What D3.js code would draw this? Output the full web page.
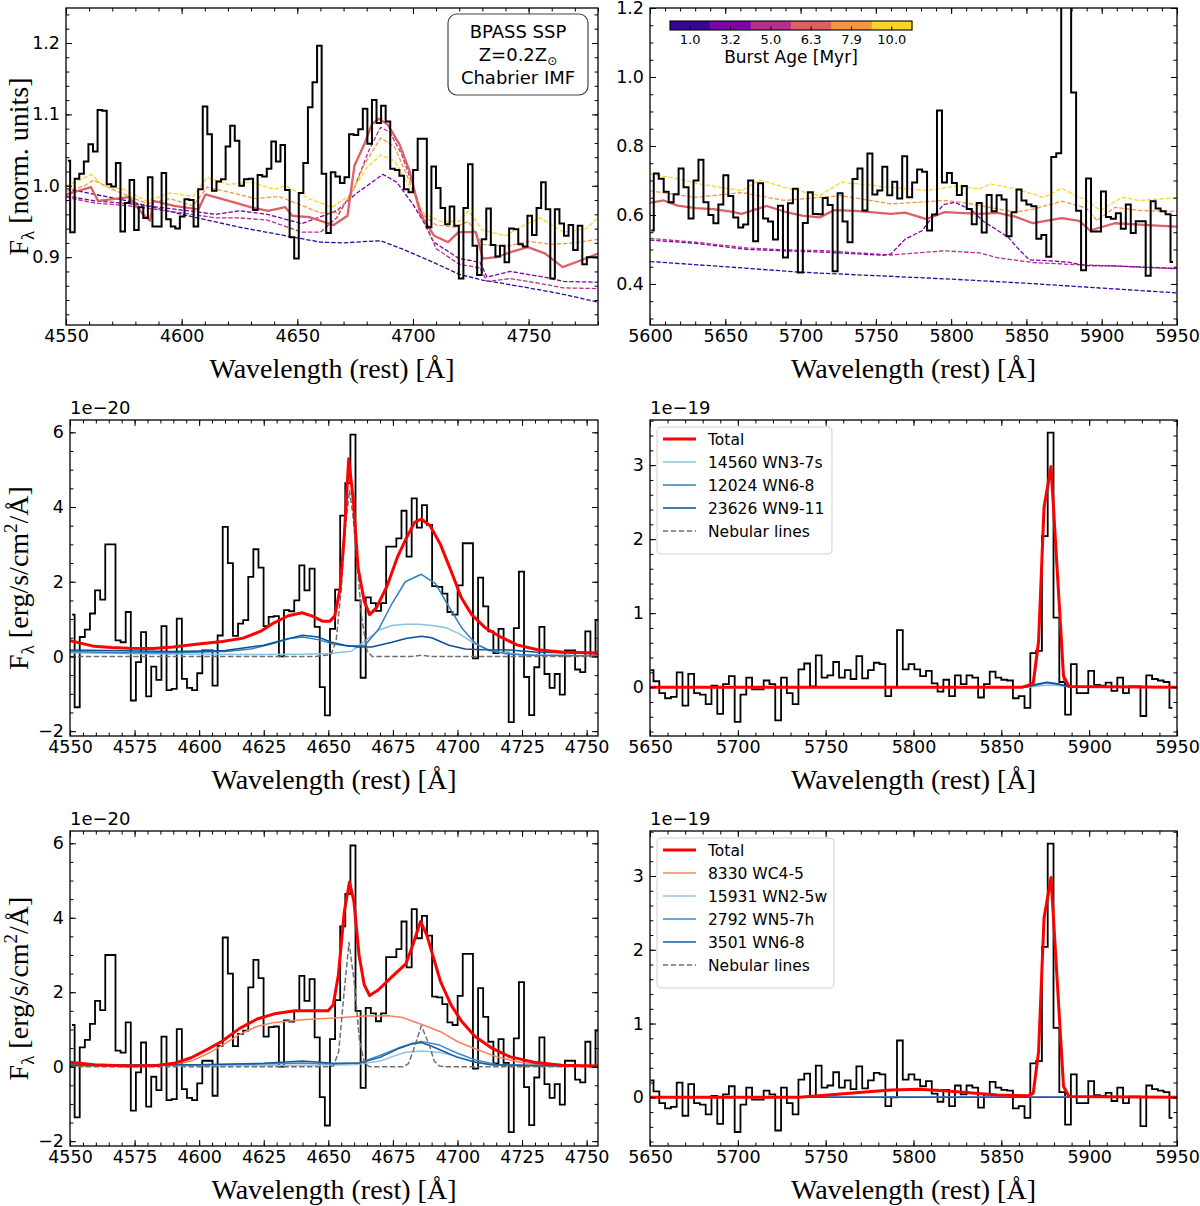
<!DOCTYPE html>
<html><head><meta charset="utf-8">
<script src="https://cdn.jsdelivr.net/npm/d3@7"></script>
<style>body{margin:0;background:#fff}</style>
</head><body>
<svg id="c" width="1200" height="1206"></svg>
<script>
// ---------------- DATA ----------------
// wavelength grids (bin centres, rest frame Å)
const blueStart = 4550.8, blueStep = 1.977;
const redStart = 5650.35, redStep = 3.3;
const redNormStart = 5600.85;

// continuum-normalised spectrum, blue window (top-left)
const fluxBlueNorm = [1.035,0.935,1.010,1.017,1.034,1.058,1.048,1.106,1.105,1.002,
 0.999,1.032,0.936,0.976,1.008,0.938,0.970,0.955,1.012,0.943,
 0.943,1.018,0.953,0.943,0.940,0.957,0.981,0.980,0.943,0.995,
 1.111,1.072,0.993,1.006,1.009,1.055,1.084,1.063,1.000,1.009,
 1.010,0.966,1.015,1.013,1.024,1.062,1.034,1.057,0.994,0.928,
 0.898,0.990,1.032,1.110,1.145,1.196,1.017,0.934,1.019,1.013,
 1.004,1.012,1.072,1.071,1.079,1.108,1.059,1.120,1.088,1.112,
 1.090,1.024,1.022,1.014,0.995,0.991,1.022,1.066,1.066,0.942,
 1.027,0.997,0.969,0.946,0.971,0.944,0.870,0.969,1.030,0.916,
 0.875,0.925,0.968,0.917,0.901,0.916,0.893,0.940,0.939,0.918,
 0.915,0.958,0.931,0.969,
 1.005,0.967,0.870,0.967,0.947,0.930,0.945,0.910,0.944,0.890,0.900,0.900,0.900];

// continuum-normalised spectrum, red window (top-right)
const fluxRedNorm = [0.555,0.720,0.705,0.667,0.637,0.660,0.735,0.680,0.590,0.700,
 0.760,0.637,0.600,0.576,0.630,
 0.715,0.655,0.593,0.564,0.572,0.700,0.524,0.692,0.590,0.581,
 0.529,0.627,0.477,0.634,0.676,0.433,0.577,0.666,0.603,0.602,
 0.649,0.629,0.437,0.663,0.581,0.521,0.704,0.735,0.613,0.778,
 0.659,0.671,0.740,0.657,0.696,0.648,0.770,0.651,0.694,0.732,
 0.725,0.555,0.601,0.903,0.694,0.722,0.693,0.658,0.684,0.617,
 0.573,0.635,0.549,0.658,0.611,0.657,0.645,0.538,0.608,0.674,
 0.642,0.630,0.625,0.531,0.542,0.479,0.768,0.779,1.387,1.935,
 0.955,0.612,0.440,0.706,0.552,0.552,0.668,0.594,0.589,0.605,
 0.560,0.630,0.548,0.582,0.582,0.424,0.640,0.619,0.611,0.602,0.464];

// continuum-subtracted flux, blue window [1e-20 erg/s/cm2/Å]
const fluxBlue = [1.12,-1.36,0.52,0.72,1.15,1.77,1.52,3.00,3.00,0.43,
 0.38,1.19,-1.18,-0.15,0.65,-1.07,-0.27,-0.63,0.81,-0.90,
 -0.87,1.01,-0.60,-0.84,-0.90,-0.45,0.16,0.16,-0.78,0.56,
 3.47,2.50,0.55,0.88,0.97,2.13,2.87,2.38,0.81,1.06,
 1.08,0.00,1.24,1.21,1.50,2.44,1.77,2.35,0.79,-0.82,
 -1.58,0.74,1.79,3.77,4.64,5.94,1.50,-0.57,1.58,1.43,
 1.22,1.43,2.94,2.94,3.16,3.90,2.67,4.23,3.45,4.05,
 3.52,1.88,1.86,1.68,1.19,1.12,1.90,3.03,3.03,-0.05,
 2.11,1.34,0.67,0.09,0.74,0.10,-1.76,0.76,2.27,-0.55,
 -1.57,-0.29,0.79,-0.47,-0.84,-0.47,-1.02,0.16,0.16,-0.35,
 -0.42,0.67,0.00,0.97];

// continuum-subtracted flux, red window [1e-19 erg/s/cm2/Å]
const fluxRed = [0.23,0.08,-0.08,-0.15,-0.13,0.20,-0.25,0.18,-0.08,-0.10,
 -0.23,0.02,-0.36,0.04,0.15,-0.47,-0.10,0.13,-0.03,-0.03,
 0.09,0.04,-0.45,0.13,-0.08,-0.23,0.24,0.32,0.01,0.43,
 0.13,0.16,0.34,0.13,0.23,0.11,0.42,0.12,0.23,0.33,
 0.31,-0.12,0.00,0.77,0.24,0.31,0.24,0.15,0.22,0.05,
 -0.06,0.10,-0.12,0.16,0.04,0.16,0.13,-0.14,0.04,0.21,
 0.13,0.10,0.09,-0.15,-0.12,-0.28,0.46,0.49,2.04,3.44,
 0.94,0.07,-0.37,0.31,-0.08,-0.08,0.22,0.03,0.02,0.06,
 -0.05,0.13,-0.08,0.01,0.01,-0.39,0.16,0.11,0.09,0.07,-0.28];

// BPASS SSP models, blue window (wavelength, normalised flux)
const ageLabels = ["1.0","3.2","5.0","6.3","7.9","10.0"];
const sspB_1_0 = [[4550,0.996],[4575,0.980],[4600,0.960],[4625,0.942],[4650,0.927],[4660,0.921],[4670,0.920],[4680,0.922],[4686,0.923],[4695,0.912],[4710,0.891],[4720,0.876],[4730,0.868],[4750,0.857],[4765,0.848],[4780,0.837]];
const sspB_3_2 = [[4550,0.986],[4562,0.979],[4577,0.975],[4600,0.966],[4615,0.960],[4625,0.965],[4637,0.960],[4652,0.947],[4667,0.965],[4675,0.988],[4687,1.016],[4693,1.005],[4700,0.974],[4705,0.947],[4709,0.921],[4720,0.898],[4729,0.893],[4732,0.872],[4742,0.880],[4757,0.872],[4765,0.866],[4780,0.865]];
const sspB_5_0 = [[4550,0.984],[4562,0.976],[4577,0.972],[4600,0.962],[4615,0.955],[4625,0.955],[4637,0.952],[4652,0.935],[4660,0.935],[4667,0.955],[4675,1.000],[4681,1.050],[4686,1.082],[4690,1.075],[4695,1.045],[4700,1.000],[4705,0.950],[4710,0.912],[4720,0.890],[4729,0.885],[4732,0.866],[4742,0.870],[4757,0.862],[4765,0.857],[4780,0.856]];
const sspB_6_3 = [[4550,0.988],[4560.8,0.998],[4563.8,0.979],[4577.3,0.984],[4583.3,0.960],[4586.3,0.951],[4587.8,0.979],[4596.8,0.972],[4607.3,0.967],[4610.3,0.988],[4622.3,0.977],[4629.8,0.970],[4637.3,0.965],[4644.8,0.970],[4647.8,0.958],[4655.2,0.956],[4665.7,0.945],[4671.7,0.958],[4674.7,1.028],[4679.2,1.060],[4682.2,1.086],[4685.2,1.094],[4689,1.086],[4694.2,1.058],[4698.7,1.019],[4703.2,0.960],[4709.2,0.930],[4715.2,0.921],[4719.7,0.935],[4727.2,0.935],[4730.2,0.898],[4736.2,0.900],[4742.2,0.907],[4749.7,0.914],[4757.2,0.905],[4764.7,0.886],[4772.2,0.895],[4780,0.905]];
const sspB_7_9 = [[4550,0.992],[4558,1.000],[4562,1.008],[4570,0.995],[4585,0.975],[4595,0.982],[4605,0.972],[4611,0.998],[4622,0.990],[4632,0.982],[4642,0.985],[4650,0.975],[4660,0.962],[4667,0.962],[4673,0.985],[4679,1.030],[4686,1.067],[4692,1.055],[4698,1.010],[4704,0.960],[4710,0.945],[4718,0.942],[4724,0.950],[4730,0.918],[4740,0.915],[4750,0.922],[4760,0.918],[4770,0.920],[4780,0.925]];
const sspB_10_0 = [[4550,1.000],[4556,1.008],[4561,1.016],[4566,1.000],[4575,0.995],[4585,0.978],[4595,0.990],[4605,0.985],[4611,1.012],[4620,1.002],[4630,1.005],[4640,0.995],[4645,1.000],[4655,0.982],[4665,0.970],[4672,0.985],[4680,1.025],[4686,1.043],[4692,1.035],[4698,1.002],[4705,0.960],[4712,0.950],[4720,0.950],[4724,0.965],[4730,0.938],[4740,0.930],[4748,0.945],[4755,0.955],[4765,0.935],[4775,0.940],[4780,0.955]];

// BPASS SSP models, red window
const sspR_1_0 = [[5600,0.465],[5650,0.450],[5700,0.434],[5750,0.424],[5800,0.414],[5850,0.402],[5900,0.388],[5950,0.374]];
const sspR_3_2 = [[5600,0.527],[5630,0.518],[5665,0.500],[5690,0.496],[5717,0.492],[5755,0.483],[5760,0.487],[5769.5,0.530],[5781,0.555],[5785,0.580],[5795,0.630],[5802.5,0.637],[5814,0.613],[5821,0.583],[5831,0.555],[5838,0.535],[5845,0.500],[5852,0.470],[5866,0.467],[5878,0.463],[5890,0.453],[5910,0.452],[5950,0.445]];
const sspR_5_0 = [[5600,0.532],[5630.2,0.521],[5665.6,0.504],[5689.2,0.499],[5717.5,0.496],[5760,0.484],[5795.4,0.496],[5819,0.490],[5830.8,0.476],[5854.4,0.462],[5878,0.457],[5908.7,0.452],[5950,0.444]];
const sspR_6_3 = [[5600,0.635],[5609,0.642],[5618.4,0.627],[5630.2,0.620],[5642,0.617],[5653.8,0.610],[5660.9,0.603],[5677.4,0.626],[5689.2,0.610],[5701,0.598],[5712.8,0.593],[5722.3,0.614],[5736.4,0.612],[5760,0.603],[5769.5,0.607],[5783.6,0.588],[5795.4,0.608],[5819,0.603],[5830.8,0.606],[5842.6,0.595],[5854.4,0.576],[5873.3,0.591],[5885.1,0.583],[5892.2,0.555],[5908.7,0.576],[5925.2,0.572],[5937,0.569],[5950,0.566]];
const sspR_7_9 = [[5600,0.670],[5630.2,0.651],[5660.9,0.665],[5689.2,0.642],[5712.8,0.651],[5727,0.656],[5760,0.632],[5795.4,0.642],[5807.2,0.637],[5842.6,0.608],[5854.4,0.617],[5873.3,0.640],[5889.8,0.620],[5896.9,0.584],[5908.7,0.622],[5925.2,0.613],[5950,0.610]];
const sspR_10_0 = [[5600,0.719],[5618.4,0.705],[5630.2,0.692],[5660.9,0.670],[5672.7,0.701],[5689.2,0.680],[5712.8,0.656],[5727,0.695],[5760,0.680],[5783.6,0.671],[5802.5,0.683],[5819,0.676],[5826.1,0.690],[5842.6,0.676],[5861.5,0.651],[5873.3,0.677],[5889.8,0.642],[5899.3,0.613],[5913.4,0.651],[5925.2,0.642],[5950,0.650]];

// WR template fit 1 (middle row)
const fit1BlueTotal = [[4550,0.42],[4559.4,0.27],[4566,0.24],[4572.8,0.22],[4582,0.21],[4590,0.25],[4599.6,0.33],[4609,0.40],[4617,0.49],[4623.7,0.67],[4629,0.90],[4634.5,1.09],[4639.8,1.17],[4643.8,1.08],[4647.9,0.94],[4650.5,0.94],[4652.5,1.08],[4654.6,1.84],[4656.2,3.27],[4657.9,5.29],[4659.7,4.17],[4661.5,2.38],[4663.9,1.48],[4666,1.12],[4668.6,1.30],[4672.7,1.88],[4676.7,2.65],[4680,3.14],[4683.4,3.59],[4686,3.68],[4689.4,3.50],[4693.4,3.00],[4697.5,2.29],[4701.5,1.57],[4705.5,1.12],[4710.9,0.76],[4716.2,0.54],[4723,0.31],[4731,0.18],[4740.3,0.12],[4755,0.09]];
const fit1BlueWN37s = [[4550,0.10],[4570,0.08],[4600,0.06],[4620,0.05],[4640,0.06],[4650,0.08],[4656,0.12],[4659,0.14],[4664.2,0.41],[4669.4,0.70],[4674.6,0.83],[4679.8,0.86],[4685,0.86],[4690.2,0.83],[4695.4,0.77],[4700.6,0.61],[4705.8,0.38],[4711,0.20],[4716.2,0.12],[4724,0.05],[4755,0.02]];
const fit1BlueWN68 = [[4550,0.13],[4570,0.10],[4590,0.10],[4610,0.13],[4620,0.20],[4628,0.33],[4635,0.48],[4640,0.52],[4646,0.45],[4652,0.33],[4658,0.27],[4664.2,0.30],[4669.4,0.72],[4674.6,1.41],[4679.8,2.00],[4686,2.20],[4691.5,1.95],[4696.7,1.33],[4701.9,0.74],[4707.1,0.34],[4712.3,0.16],[4718.8,0.07],[4729.2,0.03],[4755,0.01]];
const fit1BlueWN911 = [[4550,0.17],[4570,0.15],[4590,0.13],[4610,0.16],[4625,0.30],[4633,0.45],[4640,0.57],[4646,0.52],[4651.2,0.38],[4656.4,0.30],[4661.6,0.25],[4666.8,0.25],[4674.6,0.38],[4680,0.48],[4686,0.54],[4690,0.50],[4696.7,0.30],[4703,0.20],[4710,0.18],[4720,0.17],[4730,0.12],[4755,0.07]];
const fit1BlueNeb = [[4550,0],[4645,0],[4651,0.05],[4653,0.4],[4655,1.8],[4656.5,3.4],[4658.2,4.45],[4659.5,3.8],[4661,2.6],[4663,1.0],[4665,0.15],[4667,0],[4682,0],[4686,0.03],[4690,0],[4755,0]];
const fit1RedTotal = [[5650,0],[5862,0],[5866,0.03],[5868.2,0.06],[5871.2,0.62],[5874.3,2.43],[5878.3,2.98],[5885.4,0.15],[5888.5,0.01],[5950,0]];
const fit1RedWN37s = [[5650,0],[5865,0],[5872,0.02],[5878,0.03],[5884,0.02],[5890,0],[5950,0]];
const fit1RedWN68 = [[5650,0],[5864,0],[5870,0.03],[5876,0.06],[5882,0.04],[5888,0.01],[5892,0],[5950,0]];
const fit1RedWN911 = [[5650,0],[5863,0],[5870,0.04],[5876,0.065],[5882,0.045],[5888,0.01],[5892,0],[5950,0]];
const fit1RedNeb = [[5650,0],[5866,0],[5868.2,0.02],[5871.2,0.55],[5874.3,2.37],[5878.3,2.92],[5885.4,0.10],[5888.5,0],[5950,0]];

// WR template fit 2 (bottom row)
const fit2BlueTotal = [[4550,0.12],[4559.4,0.05],[4572.8,0.02],[4583.5,0.03],[4590.2,0.09],[4596.9,0.24],[4603.6,0.48],[4609,0.69],[4615.7,1.03],[4622.4,1.28],[4629.1,1.42],[4637.1,1.50],[4642.5,1.50],[4649.9,1.50],[4651.9,1.66],[4653.9,2.47],[4656.2,4.17],[4658.2,4.96],[4659.9,4.44],[4661.9,3.00],[4663.9,2.20],[4666,1.91],[4669.3,2.06],[4674.7,2.42],[4680,2.76],[4682.7,3.27],[4685.7,3.90],[4688.1,3.54],[4690.8,2.91],[4693.4,2.29],[4697.5,1.66],[4701.5,1.23],[4706.8,0.81],[4713.5,0.49],[4720.2,0.27],[4729.6,0.12],[4740.3,0.04],[4755,0.02]];
const fit2BlueWC45 = [[4550,0.01],[4575,0.01],[4583,0.02],[4590,0.06],[4597,0.15],[4603.6,0.36],[4609,0.58],[4615.7,0.87],[4622.4,1.08],[4629.1,1.19],[4639.8,1.26],[4650.5,1.30],[4663.9,1.36],[4673.3,1.37],[4678.7,1.32],[4686.7,1.12],[4693.4,0.94],[4700.1,0.67],[4706.8,0.48],[4714.9,0.27],[4724.3,0.12],[4733.6,0.04],[4755,0.01]];
const fit2BlueWN25w = [[4550,0.03],[4600,0.03],[4640,0.04],[4660,0.05],[4670,0.15],[4676,0.30],[4680,0.39],[4686,0.42],[4693,0.39],[4700,0.27],[4707,0.12],[4715,0.04],[4755,0.02]];
const fit2BlueWN57h = [[4550,0.05],[4600,0.05],[4625,0.07],[4640,0.10],[4652,0.07],[4662,0.10],[4670,0.30],[4677,0.50],[4682,0.62],[4686,0.68],[4693,0.58],[4700,0.36],[4707,0.18],[4715,0.06],[4730,0.02],[4755,0.01]];
const fit2BlueWN68 = [[4550,0.04],[4600,0.05],[4625,0.09],[4640,0.15],[4652,0.09],[4662,0.10],[4670,0.25],[4677,0.48],[4682,0.60],[4686,0.65],[4690,0.55],[4695,0.40],[4700,0.25],[4707,0.12],[4713,0.05],[4755,0.01]];
const fit2BlueNeb = [[4550,0],[4650,0],[4652,0.02],[4654,0.4],[4656,1.9],[4658,3.34],[4660,2.3],[4662,0.75],[4664,0.08],[4666,0],[4679,0],[4681,0.08],[4683,0.45],[4686,1.1],[4689,0.6],[4691,0.15],[4693,0.02],[4695,0],[4755,0]];
const fit2RedTotal = [[5650,0],[5735,0],[5756.6,0.04],[5770.8,0.07],[5787,0.10],[5803.2,0.11],[5817.4,0.09],[5833.7,0.06],[5847.9,0.03],[5865.1,0.02],[5868.2,0.06],[5871.2,0.62],[5874.3,2.43],[5878.3,2.98],[5885.4,0.15],[5888.5,0.01],[5950,0]];
const fit2RedWC45 = [[5650,0],[5735,0],[5756.6,0.035],[5770.8,0.065],[5787,0.095],[5803.2,0.105],[5817.4,0.085],[5833.7,0.055],[5847.9,0.025],[5865,0.01],[5880,0],[5950,0]];
const fit2RedWN25w = [[5650,0],[5950,0]];
const fit2RedWN57h = [[5650,0],[5950,0]];
const fit2RedWN68 = [[5650,0],[5950,0]];
const fit2RedNeb = [[5650,0],[5865,0],[5868.2,0.04],[5871.2,0.6],[5874.3,2.4],[5878.3,2.96],[5885.4,0.13],[5888.5,0],[5950,0]];

// legend labels
const legend1 = ["Total","14560 WN3-7s","12024 WN6-8","23626 WN9-11","Nebular lines"];
const legend2 = ["Total","8330 WC4-5","15931 WN2-5w","2792 WN5-7h","3501 WN6-8","Nebular lines"];

// ---------------- DRAWING ----------------
const SANS = "'DejaVu Sans', sans-serif";
const SERIF = "'Liberation Serif', 'DejaVu Serif', serif";
const TICKFS = 17.5;
const svg = d3.select('#c');
svg.append('rect').attr('width',1200).attr('height',1206).attr('fill','#fff');
const defs = svg.append('defs');

const C_RED = '#ff0000', C_LIGHT = '#8cc1e0', C_MID = '#2f80c0', C_DARK = '#0d4f95', C_SALMON = '#fb8060', C_NEB = '#707070';
const C_WN25 = '#94c4df', C_WN57 = '#3d8ac6', C_WN68b = '#165ba3';
const ageColor = i => d3.interpolatePlasma((i + 0.5) / 6);

let clipN = 0;
function makePanel(x0, x1, y0, y1, xdom, ydom) {
  const x = d3.scaleLinear().domain(xdom).range([x0, x1]);
  const y = d3.scaleLinear().domain(ydom).range([y1, y0]);
  const id = 'clip' + (clipN++);
  defs.append('clipPath').attr('id', id).append('rect')
    .attr('x', x0).attr('y', y0).attr('width', x1 - x0).attr('height', y1 - y0);
  const plot = svg.append('g').attr('clip-path', `url(#${id})`);
  return {x, y, x0, x1, y0, y1, plot};
}

function rng(a, b, s) { const out = []; for (let v = a; v <= b + 1e-9; v += s) out.push(+v.toFixed(6)); return out; }

function axes(p, xMaj, xMin, yMaj, yMin, xfmt, yfmt) {
  const g = svg.append('g');
  const add = (gen, tr) => {
    const a = g.append('g').attr('transform', tr).call(gen);
    a.select('.domain').remove();
    a.selectAll('line').attr('stroke', '#000').attr('stroke-width', 1);
    a.selectAll('text').attr('fill', '#000').attr('font-family', SANS).attr('font-size', TICKFS);
    a.attr('font-family', SANS).attr('font-size', TICKFS);
  };
  add(d3.axisBottom(p.x).tickValues(xMaj).tickSize(-6).tickPadding(5).tickFormat(xfmt), `translate(0,${p.y1})`);
  add(d3.axisBottom(p.x).tickValues(xMin).tickSize(-3.5).tickFormat(''), `translate(0,${p.y1})`);
  add(d3.axisTop(p.x).tickValues(xMaj).tickSize(-6).tickFormat(''), `translate(0,${p.y0})`);
  add(d3.axisTop(p.x).tickValues(xMin).tickSize(-3.5).tickFormat(''), `translate(0,${p.y0})`);
  add(d3.axisLeft(p.y).tickValues(yMaj).tickSize(-6).tickPadding(6).tickFormat(yfmt), `translate(${p.x0},0)`);
  add(d3.axisLeft(p.y).tickValues(yMin).tickSize(-3.5).tickFormat(''), `translate(${p.x0},0)`);
  add(d3.axisRight(p.y).tickValues(yMaj).tickSize(-6).tickFormat(''), `translate(${p.x1},0)`);
  add(d3.axisRight(p.y).tickValues(yMin).tickSize(-3.5).tickFormat(''), `translate(${p.x1},0)`);
  g.append('rect').attr('x', p.x0).attr('y', p.y0).attr('width', p.x1 - p.x0).attr('height', p.y1 - p.y0)
    .attr('fill', 'none').attr('stroke', '#000').attr('stroke-width', 1.3);
  svg.append('text').attr('x', (p.x0 + p.x1) / 2).attr('y', p.y1 + 53).attr('text-anchor', 'middle')
    .attr('font-family', SERIF).attr('font-size', 28).text('Wavelength (rest) [Å]');
}

function histo(p, start, step, vals, sw) {
  const pts = vals.map((v, i) => [start + step * i, v]);
  p.plot.append('path').datum(pts)
    .attr('d', d3.line().x(d => p.x(d[0])).y(d => p.y(d[1])).curve(d3.curveStep))
    .attr('fill', 'none').attr('stroke', '#000').attr('stroke-width', sw);
}
function curve(p, pts, color, sw, dash) {
  const path = p.plot.append('path').datum(pts)
    .attr('d', d3.line().x(d => p.x(d[0])).y(d => p.y(d[1])))
    .attr('fill', 'none').attr('stroke', color).attr('stroke-width', sw)
    .attr('stroke-linejoin', 'round');
  if (dash) path.attr('stroke-dasharray', dash);
}

function ylabel(cy, norm) {
  const t = svg.append('text').attr('transform', `translate(28,${cy}) rotate(-90)`)
    .attr('text-anchor', 'middle').attr('font-family', SERIF).attr('font-size', 28);
  t.append('tspan').text('F');
  t.append('tspan').attr('font-size', 19).attr('dy', 6).text('λ');
  if (norm) {
    t.append('tspan').attr('dy', -6).text(' [norm. units]');
  } else {
    t.append('tspan').attr('dy', -6).text(' [erg/s/cm');
    t.append('tspan').attr('font-size', 19).attr('dy', -11).text('2');
    t.append('tspan').attr('dy', 11).text('/Å]');
  }
}

function offsetText(p, txt) {
  svg.append('text').attr('x', p.x0).attr('y', p.y0 - 6).attr('font-family', SANS).attr('font-size', 18).text(txt);
}

function legend(x, y, w, entries) {
  const rowH = 23;
  const h = entries.length * rowH + 12;
  svg.append('rect').attr('x', x).attr('y', y).attr('width', w).attr('height', h).attr('rx', 4)
    .attr('fill', '#fff').attr('fill-opacity', 0.85).attr('stroke', '#d0d0d0').attr('stroke-width', 1);
  entries.forEach((e, i) => {
    const cy = y + 12 + rowH * i;
    const l = svg.append('line').attr('x1', x + 6).attr('x2', x + 39).attr('y1', cy).attr('y2', cy)
      .attr('stroke', e.color).attr('stroke-width', e.sw);
    if (e.dash) l.attr('stroke-dasharray', e.dash);
    svg.append('text').attr('x', x + 51).attr('y', cy + 5.5).attr('font-family', SANS).attr('font-size', 15.5).text(e.label);
  });
}

// ---- top-left ----
const pTL = makePanel(66, 598, 8, 325, [4550, 4780], [0.805, 1.249]);
const sspB = [sspB_1_0, sspB_3_2, sspB_5_0, sspB_6_3, sspB_7_9, sspB_10_0];
[0, 1, 2, 4, 5].forEach(i => curve(pTL, sspB[i], ageColor(i), 1.3, '4.4,1.9'));
curve(pTL, sspB[3], ageColor(3), 2.3, null);
histo(pTL, blueStart, blueStep, fluxBlueNorm, 2);
axes(pTL, rng(4550, 4750, 50), rng(4550, 4780, 10), rng(0.9, 1.2, 0.1), rng(0.82, 1.24, 0.02), d3.format('d'), d3.format('.1f'));
ylabel((8 + 325) / 2, true);
svg.append('rect').attr('x', 448).attr('y', 14).attr('width', 140).attr('height', 81).attr('rx', 9)
  .attr('fill', '#fff').attr('stroke', '#444').attr('stroke-width', 1.2);
[['BPASS SSP', 38], ['Chabrier IMF', 84]].forEach(([t, yy]) =>
  svg.append('text').attr('x', 518).attr('y', yy).attr('text-anchor', 'middle').attr('font-family', SANS).attr('font-size', 18).text(t));
const zt = svg.append('text').attr('x', 518).attr('y', 61).attr('text-anchor', 'middle').attr('font-family', SANS).attr('font-size', 18);
zt.append('tspan').text('Z=0.2Z');
zt.append('tspan').attr('font-size', 12).attr('dy', 4).text('⊙');

// ---- top-right ----
const pTR = makePanel(650, 1177, 8, 325, [5600, 5950], [0.281, 1.2]);
const sspR = [sspR_1_0, sspR_3_2, sspR_5_0, sspR_6_3, sspR_7_9, sspR_10_0];
[0, 2, 1, 4, 5].forEach(i => curve(pTR, sspR[i], ageColor(i), 1.3, '4.4,1.9'));
curve(pTR, sspR[3], ageColor(3), 2.3, null);
histo(pTR, redNormStart, redStep, fluxRedNorm, 2);
axes(pTR, rng(5600, 5950, 50), rng(5600, 5950, 10), rng(0.4, 1.2, 0.2), rng(0.3, 1.2, 0.05), d3.format('d'), d3.format('.1f'));
const cbx0 = 670, cbx1 = 912, cby0 = 21, cby1 = 30;
const cbw = (cbx1 - cbx0) / 6;
ageLabels.forEach((lab, i) => {
  svg.append('rect').attr('x', cbx0 + cbw * i).attr('y', cby0).attr('width', cbw + 0.5).attr('height', cby1 - cby0).attr('fill', ageColor(i));
  const cx = cbx0 + cbw * (i + 0.5);
  svg.append('line').attr('x1', cx).attr('x2', cx).attr('y1', cby1).attr('y2', cby1 - 3.5).attr('stroke', '#000').attr('stroke-width', 1);
  svg.append('text').attr('x', cx).attr('y', 44).attr('text-anchor', 'middle').attr('font-family', SANS).attr('font-size', 13).text(lab);
});
svg.append('rect').attr('x', cbx0).attr('y', cby0).attr('width', cbx1 - cbx0).attr('height', cby1 - cby0).attr('fill', 'none').attr('stroke', '#000').attr('stroke-width', 1.1);
svg.append('text').attr('x', (cbx0 + cbx1) / 2).attr('y', 63).attr('text-anchor', 'middle').attr('font-family', SANS).attr('font-size', 17).text('Burst Age [Myr]');

// ---- fit panels ----
const fmtInt = d3.format('d');
function blueFitPanel(y0, y1, comps, neb, total) {
  const p = makePanel(70, 598, y0, y1, [4550, 4754.4], [-2.13, 6.33]);
  histo(p, blueStart, blueStep, fluxBlue, 1.8);
  comps.forEach(c => curve(p, c.d, c.color, 1.5, null));
  curve(p, neb, C_NEB, 1.5, '5.5,2.4');
  curve(p, total, C_RED, 3, null);
  axes(p, rng(4550, 4750, 25), rng(4550, 4754, 5), rng(-2, 6, 2), rng(-2, 6, 0.5), fmtInt, fmtInt);
  offsetText(p, '1e−20');
  ylabel((y0 + y1) / 2, false);
}
function redFitPanel(y0, y1, comps, neb, total) {
  const p = makePanel(650, 1177, y0, y1, [5650, 5950], [-0.66, 3.61]);
  histo(p, redStart, redStep, fluxRed, 1.8);
  curve(p, neb, C_NEB, 1.5, '5.5,2.4');
  comps.forEach(c => curve(p, c.d, c.color, 1.5, null));
  curve(p, total, C_RED, 3, null);
  axes(p, rng(5650, 5950, 50), rng(5650, 5950, 10), rng(0, 3, 1), rng(-0.6, 3.6, 0.2), fmtInt, fmtInt);
  offsetText(p, '1e−19');
}

blueFitPanel(420, 736, [
  {d: fit1BlueWN37s, color: C_LIGHT}, {d: fit1BlueWN68, color: C_MID}, {d: fit1BlueWN911, color: C_DARK}
], fit1BlueNeb, fit1BlueTotal);
redFitPanel(420, 736, [
  {d: fit1RedWN37s, color: C_LIGHT}, {d: fit1RedWN68, color: C_MID}, {d: fit1RedWN911, color: C_DARK}
], fit1RedNeb, fit1RedTotal);
legend(657, 427, 175, [
  {label: legend1[0], color: C_RED, sw: 3}, {label: legend1[1], color: C_LIGHT, sw: 1.5},
  {label: legend1[2], color: C_MID, sw: 1.5}, {label: legend1[3], color: C_DARK, sw: 1.5},
  {label: legend1[4], color: C_NEB, sw: 1.5, dash: '5,3'}
]);

blueFitPanel(831, 1146, [
  {d: fit2BlueWC45, color: C_SALMON}, {d: fit2BlueWN25w, color: C_WN25}, {d: fit2BlueWN57h, color: C_WN57}, {d: fit2BlueWN68, color: C_WN68b}
], fit2BlueNeb, fit2BlueTotal);
redFitPanel(831, 1146, [
  {d: fit2RedWC45, color: C_SALMON}, {d: fit2RedWN25w, color: C_WN25}, {d: fit2RedWN57h, color: C_WN57}, {d: fit2RedWN68, color: C_WN68b}
], fit2RedNeb, fit2RedTotal);
legend(657, 838, 177, [
  {label: legend2[0], color: C_RED, sw: 3}, {label: legend2[1], color: C_SALMON, sw: 1.5},
  {label: legend2[2], color: C_WN25, sw: 1.5}, {label: legend2[3], color: C_WN57, sw: 1.5},
  {label: legend2[4], color: C_WN68b, sw: 1.5}, {label: legend2[5], color: C_NEB, sw: 1.5, dash: '5,3'}
]);
</script>
</body></html>
